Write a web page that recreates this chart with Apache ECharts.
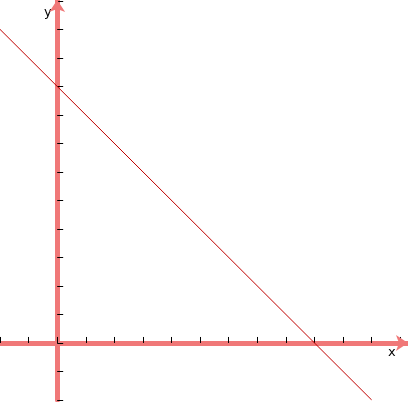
<!DOCTYPE html>
<html>
<head>
<meta charset="utf-8">
<script src="https://cdn.jsdelivr.net/npm/echarts@6/dist/echarts.min.js"></script>
<style>html,body{margin:0;padding:0;background:#fff}#main{width:408px;height:402px}</style>
</head>
<body>
<div id="main"></div>
<script>
// line y = 90 - x, drawn between its visible end points
var lineX = [-20, 110];
var lineY = [110, -20];
var xTicks = [-20, -10, 10, 20, 30, 40, 50, 60, 70, 80, 90, 100, 110];
var yTicks = [-20, -10, 0, 10, 20, 30, 40, 50, 60, 70, 80, 90, 100, 110];

var axisColor = '#f07878';
var font = {color: '#000', fontSize: 13, fontFamily: 'DejaVu Sans'};

function labelFor(list) {
    return function (v) {
        return list.indexOf(Math.round(v)) >= 0 ? String(Math.round(v)) : '';
    };
}

var myChart = echarts.init(document.getElementById('main'));
myChart.setOption({
    animation: false,
    grid: {left: 0, right: 0, top: 0, bottom: 2, containLabel: false, outerBoundsMode: 'none'},
    xAxis: {
        type: 'value', min: -20, max: 122.7, interval: 10,
        splitLine: {show: false},
        axisLine: {onZero: true, lineStyle: {color: axisColor, width: 5},
            symbol: ['none', 'arrow'], symbolSize: [12, 12]},
        axisTick: {inside: true, length: 6, lineStyle: {color: '#000', width: 1}},
        axisLabel: Object.assign({formatter: labelFor(xTicks), margin: 6, showMaxLabel: false}, font)
    },
    yAxis: {
        type: 'value', min: -20, max: 120.3, interval: 10,
        splitLine: {show: false},
        axisLine: {onZero: true, lineStyle: {color: axisColor, width: 5},
            symbol: ['none', 'arrow'], symbolSize: [12, 12]},
        axisTick: {inside: true, length: 6, lineStyle: {color: '#000', width: 1}},
        axisLabel: Object.assign({formatter: labelFor(yTicks), margin: 4, verticalAlign: 'bottom', showMaxLabel: false}, font)
    },
    graphic: [
        {type: 'text', left: 388, top: 346, style: {text: 'x', fill: '#000', font: '13px DejaVu Sans'}},
        {type: 'text', left: 44, top: 6, style: {text: 'y', fill: '#000', font: '13px DejaVu Sans'}}
    ],
    series: [{
        type: 'line',
        data: lineX.map(function (x, i) { return [x, lineY[i]]; }),
        showSymbol: false,
        lineStyle: {color: '#c00000', width: 1}
    }]
});
</script>
</body>
</html>
